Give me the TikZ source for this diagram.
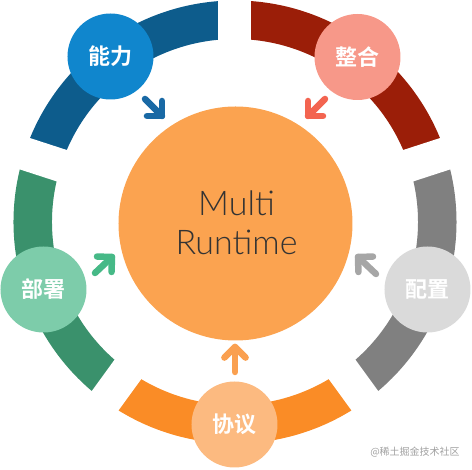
\documentclass[tikz,border=0pt]{standalone}
\usepackage{fontspec}
\usetikzlibrary{calc}
\newfontfamily\cjkb{Noto Sans CJK SC}[UprightFont=* Bold]
\newfontfamily\cjkr{Noto Sans CJK SC}
\newfontfamily\mrfont{Lato Light}
\definecolor{ringblue}{RGB}{13,92,140}
\definecolor{ringred}{RGB}{155,30,8}
\definecolor{ringgray}{RGB}{128,128,128}
\definecolor{ringorange}{RGB}{250,140,38}
\definecolor{ringgreen}{RGB}{58,145,108}
\definecolor{cblue}{RGB}{16,134,205}
\definecolor{cred}{RGB}{247,152,137}
\definecolor{cgray}{RGB}{218,218,218}
\definecolor{corange}{RGB}{252,186,128}
\definecolor{cgreen}{RGB}{125,204,170}
\definecolor{ablue}{RGB}{25,105,165}
\definecolor{ared}{RGB}{243,100,80}
\definecolor{agray}{RGB}{166,166,166}
\definecolor{aorange}{RGB}{250,160,80}
\definecolor{agreen}{RGB}{70,185,135}
\definecolor{center}{RGB}{251,163,80}
\definecolor{wm}{RGB}{160,160,160}
\begin{document}
\begin{tikzpicture}[x=1pt,y=1pt,
  seg/.style={line width=38.5pt},
  gapband/.style={white,line width=33pt},
  topic/.style={circle,minimum size=86pt,inner sep=0pt,text=white,font=\cjkb\fontsize{22}{22}\selectfont},
  arr/.style={line width=6.5pt,line cap=round,line join=round}]
\useasboundingbox (-235,-248) rectangle (237,222);
% ring segments
\draw[seg,ringred]    (18:202.25pt)  arc[start angle=18,end angle=90,radius=202.25pt];
\draw[seg,ringblue]   (90:202.25pt)  arc[start angle=90,end angle=162,radius=202.25pt];
\draw[seg,ringgreen]  (162:202.25pt) arc[start angle=162,end angle=234,radius=202.25pt];
\draw[seg,ringorange] (234:202.25pt) arc[start angle=234,end angle=306,radius=202.25pt];
\draw[seg,ringgray]   (306:202.25pt) arc[start angle=306,end angle=378,radius=202.25pt];
\coordinate (o) at (0,0);
\foreach \g in {90,18,-54,-126,162}{
  \draw[gapband] (o) -- (\g:240pt);
}
% central circle
\node[circle,fill=center,minimum size=234pt,inner sep=0pt] (mr) at (0.5,-1.5) {};
\node[font=\mrfont\fontsize{34}{39}\selectfont,text=black!80,align=center,anchor=base] (mrt) at (1.5,-33) {Multi\\Runtime};
% topic circles
\node[topic,fill=cblue]   (nl) at (-124.5,165.5) {能力};
\node[topic,fill=cred]    (zh) at (122.5,165) {整合};
\node[topic,fill=cgray]   (pz) at (192.5,-67.5) {配置};
\node[topic,fill=cgreen]  (bs) at (-191.5,-67.5) {部署};
\node[topic,fill=corange] (xy) at (-0.5,-202.5) {协议};
% arrows
\coordinate (nlt) at (-90,123);  \coordinate (nlh) at (-73,106);
\coordinate (zht) at (90,123);   \coordinate (zhh) at (73,106);
\coordinate (bst) at (-140,-51); \coordinate (bsh) at (-123,-35);
\coordinate (pzt) at (141,-52);  \coordinate (pzh) at (123,-35);
\coordinate (xyt) at (0,-150);   \coordinate (xyh) at (0,-125);
\foreach \t/\h/\c in {nlt/nlh/ablue,zht/zhh/ared,bst/bsh/agreen,pzt/pzh/agray,xyt/xyh/aorange}{
  \draw[arr,\c] (\t) -- (\h);
  \draw[arr,\c] ($(\h)!15pt!45:(\t)$) -- (\h) -- ($(\h)!15pt!-45:(\t)$);
}
% watermark
\node[font=\cjkr\fontsize{10}{10}\selectfont,text=wm] (wmk) at (180,-230) {@稀土掘金技术社区};
\end{tikzpicture}
\end{document}
